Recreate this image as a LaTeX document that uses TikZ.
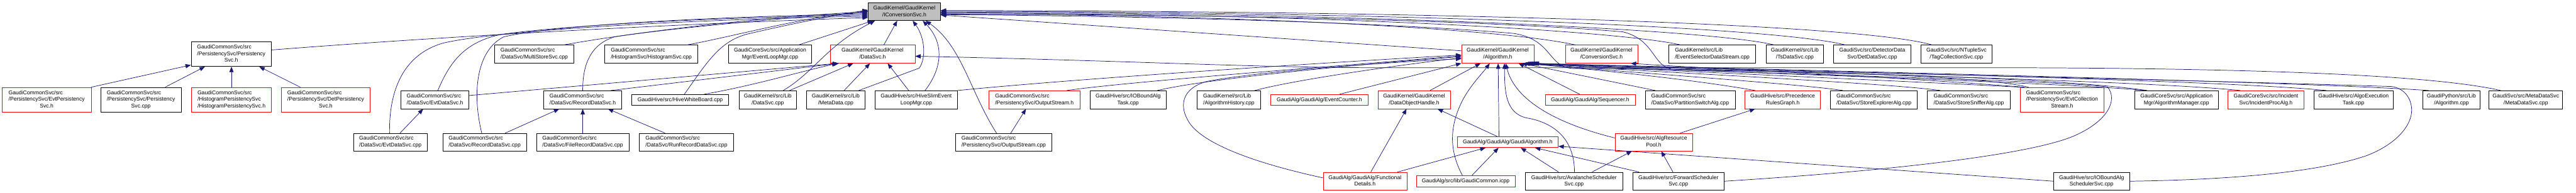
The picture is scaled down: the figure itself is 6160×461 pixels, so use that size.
\documentclass[tikz,border=0pt]{standalone}
\usepackage{fontspec}
\setmainfont{Liberation Sans}
\usetikzlibrary{arrows.meta}
\definecolor{edgec}{HTML}{191970}
\definecolor{redc}{HTML}{FF0000}
\definecolor{rootfill}{HTML}{BFBFBF}
\newcommand{\lblii}[2]{\begin{tabular}{@{}l@{}}#1\\\multicolumn{1}{@{}c@{}}{#2}\end{tabular}}
\newcommand{\lbliii}[3]{\begin{tabular}{@{}l@{}}#1\\#2\\\multicolumn{1}{@{}c@{}}{#3}\end{tabular}}
\tikzset{
  nb/.style={draw=black, line width=1pt, inner sep=0pt, font=\fontsize{13}{16}\selectfont, align=center, minimum height=43pt},
  nr/.style={nb, draw=redc},
  edge/.style={draw=edgec, line width=1.1pt, -{Triangle[length=13pt,width=10pt]}},
}
\begin{document}
\begin{tikzpicture}[x=1pt,y=-1pt]
\fill[white] (0,0) rectangle (6160,461);
\useasboundingbox (0,0) rectangle (6160,461);
% ---------- row 1
\node[nb, fill=rootfill, minimum width=173pt, minimum height=42pt] (root) at (2162.5,28) {\lblii{GaudiKernel/GaudiKernel}{/IConversionSvc.h}};
% ---------- row 2
\node[nb, minimum width=192pt, minimum height=59pt] (psh) at (553,129.5) {\lbliii{GaudiCommonSvc/src}{/PersistencySvc/Persistency}{Svc.h}};
\node[nb, minimum width=189pt] (mss) at (1277.5,129.5) {\lblii{GaudiCommonSvc/src}{/DataSvc/MultiStoreSvc.cpp}};
\node[nb, minimum width=223pt] (hsc) at (1557.5,129.5) {\lblii{GaudiCommonSvc/src}{/HistogramSvc/HistogramSvc.cpp}};
\node[nb, minimum width=199pt] (elm) at (1841.5,129.5) {\lblii{GaudiCoreSvc/src/Application}{Mgr/EventLoopMgr.cpp}};
\node[nr, minimum width=203pt] (dsh) at (2086.5,129.5) {\lblii{GaudiKernel/GaudiKernel}{/DataSvc.h}};
\node[nr, minimum width=173pt] (algh) at (3581.5,129.5) {\lblii{GaudiKernel/GaudiKernel}{/Algorithm.h}};
\node[nr, minimum width=173pt] (cnvh) at (3829.5,129.5) {\lblii{GaudiKernel/GaudiKernel}{/ConversionSvc.h}};
\node[nb, minimum width=207pt] (esds) at (4094.5,129.5) {\lblii{GaudiKernel/src/Lib}{/EventSelectorDataStream.cpp}};
\node[nb, minimum width=138pt] (tsds) at (4292,129.5) {\lblii{GaudiKernel/src/Lib}{/TsDataSvc.cpp}};
\node[nb, minimum width=184pt] (dds) at (4477,129.5) {\lblii{GaudiSvc/src/DetectorData}{Svc/DetDataSvc.cpp}};
\node[nb, minimum width=171pt] (tcs) at (4678.5,129.5) {\lblii{GaudiSvc/src/NTupleSvc}{/TagCollectionSvc.cpp}};
% ---------- row 3
\node[nr, minimum width=213pt, minimum height=59pt] (eps) at (111.5,238.5) {\lbliii{GaudiCommonSvc/src}{/PersistencySvc/EvtPersistency}{Svc.h}};
\node[nb, minimum width=192pt, minimum height=59pt] (psc) at (337,238.5) {\lbliii{GaudiCommonSvc/src}{/PersistencySvc/Persistency}{Svc.cpp}};
\node[nr, minimum width=191pt, minimum height=59pt] (hps) at (553.5,238.5) {\lbliii{GaudiCommonSvc/src}{/HistogramPersistencySvc}{/HistogramPersistencySvc.h}};
\node[nr, minimum width=212pt, minimum height=59pt] (dps) at (779,238.5) {\lbliii{GaudiCommonSvc/src}{/PersistencySvc/DetPersistency}{Svc.h}};
\node[nb, minimum width=162pt] (edh) at (1040,238.5) {\lblii{GaudiCommonSvc/src}{/DataSvc/EvtDataSvc.h}};
\node[nb, minimum width=187pt] (rdh) at (1393.5,238.5) {\lblii{GaudiCommonSvc/src}{/DataSvc/RecordDataSvc.h}};
\node[nb, minimum width=231pt, minimum height=26pt] (hwb) at (1626.5,239) {GaudiHive/src/HiveWhiteBoard.cpp};
\node[nb, minimum width=138pt] (ldsc) at (1836,238.5) {\lblii{GaudiKernel/src/Lib}{/DataSvc.cpp}};
\node[nb, minimum width=139pt] (mdc) at (1998.5,238.5) {\lblii{GaudiKernel/src/Lib}{/MetaData.cpp}};
\node[nb, minimum width=196pt] (hsel) at (2191,238.5) {\lblii{GaudiHive/src/HiveSlimEvent}{LoopMgr.cpp}};
\node[nr, minimum width=217pt] (osh) at (2473.5,238.5) {\lblii{GaudiCommonSvc/src}{/PersistencySvc/OutputStream.h}};
\node[nb, minimum width=181pt] (iobt) at (2697.5,238.5) {\lblii{GaudiHive/src/IOBoundAlg}{Task.cpp}};
\node[nb, minimum width=151pt] (ahc) at (2938.5,238.5) {\lblii{GaudiKernel/src/Lib}{/AlgorithmHistory.cpp}};
\node[nr, minimum width=232pt, minimum height=26pt] (ech) at (3155,239) {GaudiAlg/GaudiAlg/EventCounter.h};
\node[nr, minimum width=173pt] (doh) at (3381.5,238.5) {\lblii{GaudiKernel/GaudiKernel}{/DataObjectHandle.h}};
\node[nr, minimum width=215pt, minimum height=26pt] (seq) at (3802.5,239) {GaudiAlg/GaudiAlg/Sequencer.h};
\node[nb, minimum width=215pt] (psa) at (4041.5,238.5) {\lblii{GaudiCommonSvc/src}{/DataSvc/PartitionSwitchAlg.cpp}};
\node[nr, minimum width=180pt] (prg) at (4263,238.5) {\lblii{GaudiHive/src/Precedence}{RulesGraph.h}};
\node[nb, minimum width=208pt] (sea) at (4481,238.5) {\lblii{GaudiCommonSvc/src}{/DataSvc/StoreExplorerAlg.cpp}};
\node[nb, minimum width=198pt] (ssa) at (4708,238.5) {\lblii{GaudiCommonSvc/src}{/DataSvc/StoreSnifferAlg.cpp}};
\node[nr, minimum width=200pt, minimum height=59pt] (ecs) at (4931,238.5) {\lbliii{GaudiCommonSvc/src}{/PersistencySvc/EvtCollection}{Stream.h}};
\node[nb, minimum width=199pt] (amc) at (5204.5,238.5) {\lblii{GaudiCoreSvc/src/Application}{Mgr/AlgorithmManager.cpp}};
\node[nr, minimum width=181pt] (ipa) at (5418.5,238.5) {\lblii{GaudiCoreSvc/src/Incident}{Svc/IncidentProcAlg.h}};
\node[nb, minimum width=190pt] (aet) at (5628,238.5) {\lblii{GaudiHive/src/AlgoExecution}{Task.cpp}};
\node[nb, minimum width=136pt] (gpa) at (5862,238.5) {\lblii{GaudiPython/src/Lib}{/Algorithm.cpp}};
\node[nb, minimum width=176pt] (mds) at (6040,238.5) {\lblii{GaudiSvc/src/MetaDataSvc}{/MetaDataSvc.cpp}};
% ---------- row 4
\node[nb, minimum width=177pt, minimum height=42pt] (edc) at (933.5,340) {\lblii{GaudiCommonSvc/src}{/DataSvc/EvtDataSvc.cpp}};
\node[nb, minimum width=200pt, minimum height=42pt] (rdc) at (1159,340) {\lblii{GaudiCommonSvc/src}{/DataSvc/RecordDataSvc.cpp}};
\node[nb, minimum width=221pt, minimum height=42pt] (frd) at (1393.5,340) {\lblii{GaudiCommonSvc/src}{/DataSvc/FileRecordDataSvc.cpp}};
\node[nb, minimum width=225pt, minimum height=42pt] (rrd) at (1641.5,340) {\lblii{GaudiCommonSvc/src}{/DataSvc/RunRecordDataSvc.cpp}};
\node[nb, minimum width=230pt, minimum height=42pt] (osc) at (2400,340) {\lblii{GaudiCommonSvc/src}{/PersistencySvc/OutputStream.cpp}};
\node[nr, minimum width=241pt, minimum height=26pt] (gah) at (3605.5,340) {GaudiAlg/GaudiAlg/GaudiAlgorithm.h};
\node[nr, minimum width=185pt, minimum height=42pt] (arp) at (3954.5,340) {\lblii{GaudiHive/src/AlgResource}{Pool.h}};
% ---------- row 5
\node[nr, minimum width=200pt] (fdh) at (3264,433.5) {\lblii{GaudiAlg/GaudiAlg/Functional}{Details.h}};
\node[nr, minimum width=236pt, minimum height=27pt] (gci) at (3505,433.5) {GaudiAlg/src/lib/GaudiCommon.icpp};
\node[nb, minimum width=232pt] (ass) at (3764,433.5) {\lblii{GaudiHive/src/AvalancheScheduler}{Svc.cpp}};
\node[nb, minimum width=219pt] (fss) at (4013.5,433.5) {\lblii{GaudiHive/src/ForwardScheduler}{Svc.cpp}};
\node[nb, minimum width=181pt] (ioss) at (5001.5,433.5) {\lblii{GaudiHive/src/IOBoundAlg}{SchedulerSvc.cpp}};
% ================= edges
% left cluster
\draw[edge] (eps.north east) -- ([yshift=4pt]psh.south west);
\draw[edge] ([xshift=58pt]psc.north) -- ([xshift=-63pt]psh.south);
\draw[edge] (hps.north) -- ([xshift=0.5pt]psh.south);
\draw[edge] ([xshift=-61pt]dps.north) -- ([xshift=67pt]psh.south);
\draw[edge] ([yshift=10pt]psh.east) .. controls (1000,92) and (1500,62) .. ([yshift=-14pt]root.west);
% EvtDataSvc
\draw[edge] ([xshift=23pt]edc.north) -- ([xshift=-28pt]edh.south);
\draw[edge] ([xshift=-2pt]edc.north) .. controls (930,215) and (965,130) .. (1060,103) .. controls (1200,70) and (1700,45) .. ([yshift=-11pt]root.west);
\draw[edge] ([xshift=7pt]edh.north) .. controls (1075,150) and (1110,100) .. (1200,82) .. controls (1400,55) and (1800,40) .. ([yshift=-8pt]root.west);
\draw[edge] ([yshift=10pt]edh.east) -- ([xshift=20pt]dsh.south west);
% RecordDataSvc
\draw[edge] ([xshift=49pt]rdc.north) -- ([xshift=-56pt]rdh.south);
\draw[edge] ([xshift=-7pt]rdc.north) .. controls (1128,220) and (1140,120) .. (1205,88) .. controls (1350,55) and (1800,38) .. ([yshift=-5pt]root.west);
\draw[edge] (frd.north) -- (frd.north |- rdh.south);
\draw[edge] ([xshift=-51pt]rrd.north) -- ([xshift=60pt]rdh.south);
\draw[edge] (rdh.north) .. controls (1393,150) and (1415,105) .. (1470,88) .. controls (1600,68) and (1900,40) .. ([yshift=-2pt]root.west);
\draw[edge] ([xshift=67pt]rdh.north) -- ([xshift=22pt]dsh.south west);
% others into root / DataSvc.h
\draw[edge] ([xshift=70pt]mss.north) .. controls (1500,80) and (1800,42) .. (root.west);
\draw[edge] ([xshift=85pt]hsc.north) .. controls (1760,86) and (1900,45) .. ([yshift=2pt]root.west);
\draw[edge] ([xshift=10pt]hwb.north) .. controls (1690,150) and (1720,100) .. (1785,82) .. controls (1900,55) and (2000,36) .. ([yshift=4pt]root.west);
\draw[edge] ([xshift=57pt]hwb.north) .. controls (1800,205) and (1900,175) .. ([xshift=18pt]dsh.south west);
\draw[edge] ([xshift=68pt]elm.north) -- ([xshift=12pt]root.south west);
\draw[edge] ([xshift=37pt]ldsc.north) .. controls (1950,170) and (1975,110) .. ([xshift=17pt]root.south west);
\draw[edge] ([xshift=52pt]ldsc.north) -- ([xshift=56pt]dsh.south west);
\draw[edge] ([xshift=20pt]mdc.north) -- ([xshift=-6pt]dsh.south);
\draw[edge] ([xshift=55pt]mdc.north) -- (2198,163) .. controls (2215,140) and (2212,90) .. ([xshift=20pt]root.south);
\draw[edge] ([xshift=27pt]dsh.north) -- ([xshift=-17pt]root.south);
\draw[edge] ([xshift=-18pt]hsel.north) -- ([xshift=36pt]dsh.south);
\draw[edge] ([xshift=21pt]hsel.north) .. controls (2252,165) and (2260,105) .. ([xshift=44pt]root.south);
\draw[edge] ([xshift=17pt]osc.north) -- ([xshift=-20pt]osh.south);
\draw[edge] ([xshift=-17pt]osc.north) .. controls (2320,220) and (2300,110) .. ([xshift=51pt]root.south);
% root right side
\draw[edge] ([yshift=8pt]algh.west) -- ([yshift=-8pt]root.east);
\draw[edge] ([xshift=-62pt]cnvh.north) .. controls (3600,70) and (3000,36) .. ([yshift=-5pt]root.east);
\draw[edge] ([xshift=-75pt]esds.north) .. controls (3880,75) and (3200,33) .. ([yshift=-3pt]root.east);
\draw[edge] ([xshift=-49pt]tsds.north) .. controls (4100,72) and (3300,31) .. ([yshift=-1pt]root.east);
\draw[edge] ([xshift=-64pt]dds.north) .. controls (4250,66) and (3400,29) .. ([yshift=1pt]root.east);
\draw[edge] ([xshift=-58pt]tcs.north) .. controls (4450,58) and (3500,27) .. ([yshift=3pt]root.east);
\draw[edge] ([xshift=-80pt]ecs.north) .. controls (4700,172) and (4000,165) .. (3765,164) .. controls (3700,163) and (3715,95) .. (3620,80) .. controls (3300,52) and (2700,38) .. ([yshift=-7pt]root.east);
\draw[edge] ([xshift=-70pt]amc.north) .. controls (4900,182) and (4200,170) .. (4005,167) .. controls (3950,162) and (3960,95) .. (3880,76) .. controls (3500,45) and (2800,34) .. ([yshift=-6pt]root.east);
% Algorithm.h from the left
\draw[edge] ([xshift=77pt]osh.north) .. controls (2700,195) and (3200,158) .. ([yshift=-4pt]algh.west);
\draw[edge] (hsel.north east) .. controls (2600,186) and (3200,148) .. ([yshift=-2pt]algh.west);
\draw[edge] ([xshift=70pt]iobt.north) .. controls (2900,185) and (3300,150) .. ([yshift=-6pt]algh.west);
\draw[edge] ([xshift=62pt]ahc.north) .. controls (3100,190) and (3350,155) .. ([yshift=-9pt]algh.west);
\draw[edge] ([yshift=8pt]fdh.west) .. controls (3000,390) and (2880,345) .. (2845,295) .. controls (2818,255) and (2825,212) .. (2885,195) .. controls (3000,172) and (3300,150) .. ([yshift=-11pt]algh.west);
\draw[edge] ([xshift=48pt]ech.north) -- (algh.south west);
\draw[edge] ([xshift=38pt]doh.north) -- ([xshift=-41pt]algh.south);
\draw[edge] ([xshift=-8pt]gci.north) .. controls (3465,360) and (3465,300) .. (3500,235) .. controls (3520,200) and (3545,175) .. ([xshift=-19pt]algh.south);
\draw[edge] ([xshift=-21pt]gah.north) -- ([xshift=1pt]algh.south);
\draw[edge] ([xshift=-25pt]gah.north) -- ([xshift=56pt]doh.south);
\draw[edge] ([xshift=1pt]ass.north) .. controls (3765,320) and (3700,290) .. (3650,282) .. controls (3600,270) and (3598,220) .. ([xshift=16pt]algh.south);
\draw[edge] ([yshift=10pt]arp.west) .. controls (3700,290) and (3620,230) .. ([xshift=19pt]algh.south);
\draw[edge] ([xshift=-25pt]seq.north) -- ([xshift=50pt]algh.south);
\draw[edge] ([xshift=-83pt]psa.north) -- ([xshift=57pt]algh.south);
% Algorithm.h from the right
\draw[edge] ([xshift=-66pt]prg.north) .. controls (4050,190) and (3800,165) .. ([xshift=62pt]algh.south);
\draw[edge] ([xshift=-74pt]sea.north) .. controls (4300,200) and (3850,170) .. ([xshift=65pt]algh.south);
\draw[edge] ([xshift=-68pt]ssa.north) .. controls (4500,197) and (3900,170) .. ([xshift=68pt]algh.south);
\draw[edge] (ecs.north west) .. controls (4600,196) and (3950,168) .. ([xshift=71pt]algh.south);
\draw[edge] ([xshift=-72pt]amc.north) .. controls (4900,195) and (4000,170) .. ([xshift=74pt]algh.south);
\draw[edge] ([xshift=-61pt]ipa.north) .. controls (5100,190) and (4100,170) .. ([xshift=77pt]algh.south);
\draw[edge] ([xshift=-65pt]aet.north) .. controls (5300,190) and (4200,168) .. ([xshift=80pt]algh.south);
\draw[edge] ([xshift=-54pt]gpa.north) .. controls (5500,195) and (4300,168) .. ([xshift=83pt]algh.south);
\draw[edge] (fss.east) .. controls (4500,410) and (4850,372) .. (4960,325) .. controls (5040,290) and (5065,240) .. (5040,208) .. controls (4900,190) and (4000,172) .. ([xshift=85pt]algh.south);
\draw[edge] (ioss.east) .. controls (5350,430) and (5550,410) .. (5660,372) .. controls (5730,345) and (5768,300) .. (5767,262) .. controls (5766,235) and (5750,212) .. (5720,207) .. controls (5200,190) and (4200,170) .. ([xshift=86pt]algh.south);
\draw[edge] ([xshift=-60pt]mds.north) .. controls (5800,175) and (5300,163) .. (4800,162) -- (3300,162) .. controls (3000,162) and (2700,145) .. ([yshift=-5pt]dsh.east);
\draw[edge] ([xshift=-90pt]ecs.north) .. controls (4500,182) and (4050,162) .. ([xshift=70pt]cnvh.south);
% lower part
\draw[edge] ([xshift=63pt]arp.north) -- ([xshift=-66pt]prg.south);
\draw[edge] ([xshift=14pt]fdh.north) -- ([xshift=-18pt]doh.south);
\draw[edge] ([xshift=78pt]fdh.north) -- ([xshift=-53pt]gah.south);
\draw[edge] ([xshift=15pt]gci.north) -- ([xshift=-22pt]gah.south);
\draw[edge] ([xshift=-37pt]ass.north) -- ([xshift=31pt]gah.south);
\draw[edge] ([xshift=43pt]ass.north) -- ([xshift=-52pt]arp.south);
\draw[edge] ([xshift=-94pt]fss.north) -- ([xshift=65pt]gah.south);
\draw[edge] ([xshift=-13pt]fss.north) -- ([xshift=18pt]arp.south);
\draw[edge] (ioss.west) -- ([yshift=-10pt]gah.east);
\end{tikzpicture}
\end{document}
